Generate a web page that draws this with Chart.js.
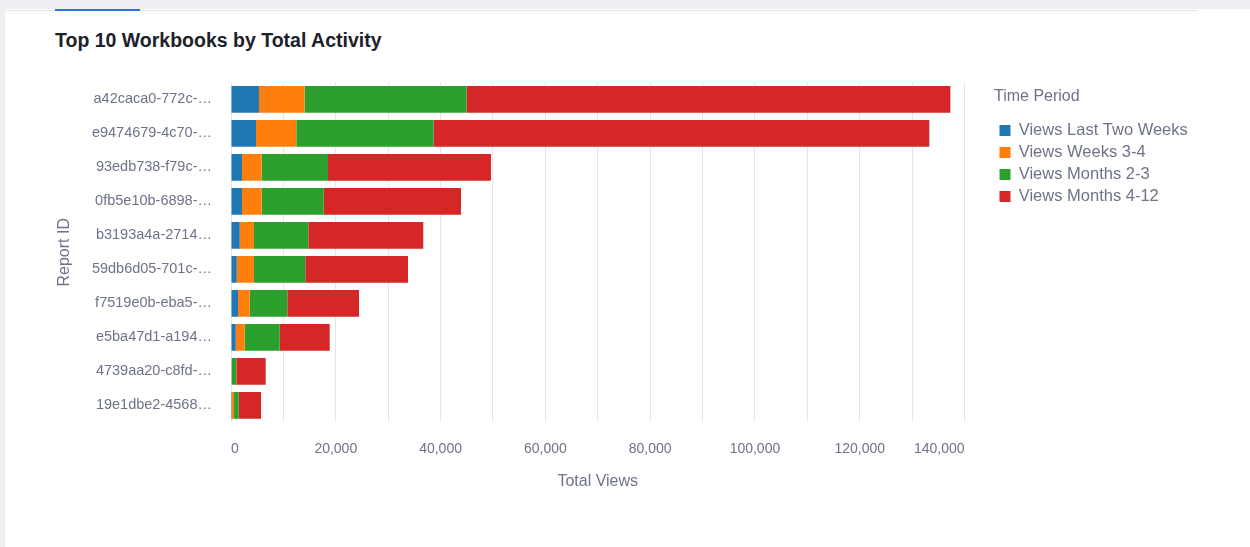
<!DOCTYPE html>
<html>
<head>
<meta charset="utf-8">
<script src="https://cdn.jsdelivr.net/npm/chart.js@4.4.1/dist/chart.umd.min.js"></script>
<style>
  html, body { margin: 0; padding: 0; }
  body { width: 1250px; height: 547px; position: relative; overflow: hidden; background: #eeeef3; font-family: Helvetica, Arial, "Liberation Sans", sans-serif; }
  .card { position: absolute; left: 5px; top: 9px; right: 0; bottom: 0; background: #ffffff; }
  .tabline { position: absolute; left: 5px; top: 10px; width: 1193px; height: 1px; background: #e4e4ea; }
  .tab { position: absolute; left: 55px; top: 9px; width: 85px; height: 2px; background: #2f6fe0; }
  h2 { position: absolute; left: 55px; top: 28px; margin: 0; font-size: 19.5px; font-weight: bold; color: #1d2129; line-height: 24px; }
  canvas { position: absolute; left: 0; top: 0; }
</style>
</head>
<body>
<div class="card"></div>
<div class="tabline"></div>
<div class="tab"></div>
<h2>Top 10 Workbooks by Total Activity</h2>
<canvas id="chart" width="1250" height="547"></canvas>
<script>
// report ids, as shown (truncated) on the axis
const reports = [
  'a42caca0-772c-…', 'e9474679-4c70-…', '93edb738-f79c-…', '0fb5e10b-6898-…',
  'b3193a4a-2714…', '59db6d05-701c-…', 'f7519e0b-eba5-…', 'e5ba47d1-a194…',
  '4739aa20-c8fd-…', '19e1dbe2-4568…'
];

// views per time period
const lastTwoWeeks = [5340, 4770, 2100, 2100, 1660, 1090, 1340, 900, 120, 190];
const weeks3to4   = [8720, 7690, 3760, 3760, 2730, 3300, 2230, 1720, 70, 380];
const months2to3  = [30920, 26230, 12650, 11830, 10360, 9790, 7180, 6680, 840, 900];
const months4to12 = [92320, 94590, 31110, 26210, 21950, 19600, 13690, 9540, 5590, 4260];

const periodNames = ['Views Last Two Weeks', 'Views Weeks 3-4', 'Views Months 2-3', 'Views Months 4-12'];
const periodColors = ['#1f77b4', '#ff7f0e', '#2ca02c', '#d62728'];

const textGray = '#6e7387';
Chart.defaults.font.family = 'Helvetica, Arial, "Liberation Sans", sans-serif';
Chart.defaults.color = textGray;

// push the legend a bit away from the plot
const legendShift = {
  id: 'legendShift',
  afterLayout(chart) {
    chart.legend.left += 29.5;
    chart.legend.right += 29.5;
  }
};

const series = [lastTwoWeeks, weeks3to4, months2to3, months4to12];

new Chart(document.getElementById('chart'), {
  type: 'bar',
  data: {
    labels: reports,
    datasets: series.map((vals, i) => ({
      label: periodNames[i],
      data: vals,
      backgroundColor: periodColors[i],
      borderWidth: 0,
      barPercentage: 0.785,
      categoryPercentage: 1
    }))
  },
  options: {
    indexAxis: 'y',
    responsive: false,
    animation: false,
    layout: { padding: { top: 82.3, right: 85.5, bottom: 0, left: 0 } },
    scales: {
      x: {
        stacked: true,
        min: 0,
        max: 140000,
        grid: { color: '#e4e6ee', drawTicks: false },
        border: { display: false },
        ticks: {
          stepSize: 10000,
          autoSkip: false,
          maxRotation: 0,
          align: 'inner',
          padding: 18,
          font: { size: 14 },
          callback: v => (v % 20000 === 0 ? v.toLocaleString('en-US') : '')
        },
        title: { display: true, text: 'Total Views', font: { size: 16 }, padding: { top: 0, bottom: 55.4 } },
        afterFit(scale) { scale.height = 547 - 422.3; }
      },
      y: {
        stacked: true,
        grid: { display: false, drawTicks: false },
        border: { display: false },
        ticks: { padding: 19, font: { size: 14.5 } },
        title: { display: true, text: 'Report ID', font: { size: 16 }, padding: { top: 55, bottom: 0 } },
        afterFit(scale) { scale.width = 231; }
      }
    },
    plugins: {
      legend: {
        position: 'right',
        align: 'start',
        maxWidth: 200,
        title: { display: true, text: 'Time Period', position: 'start', color: textGray, font: { size: 16 }, padding: { top: 6.7, bottom: 8.5 } },
        labels: { boxWidth: 11, boxHeight: 11, padding: 5.5, color: textGray, font: { size: 16.5 } }
      },
      tooltip: { enabled: false }
    }
  },
  plugins: [legendShift]
});
</script>
</body>
</html>
